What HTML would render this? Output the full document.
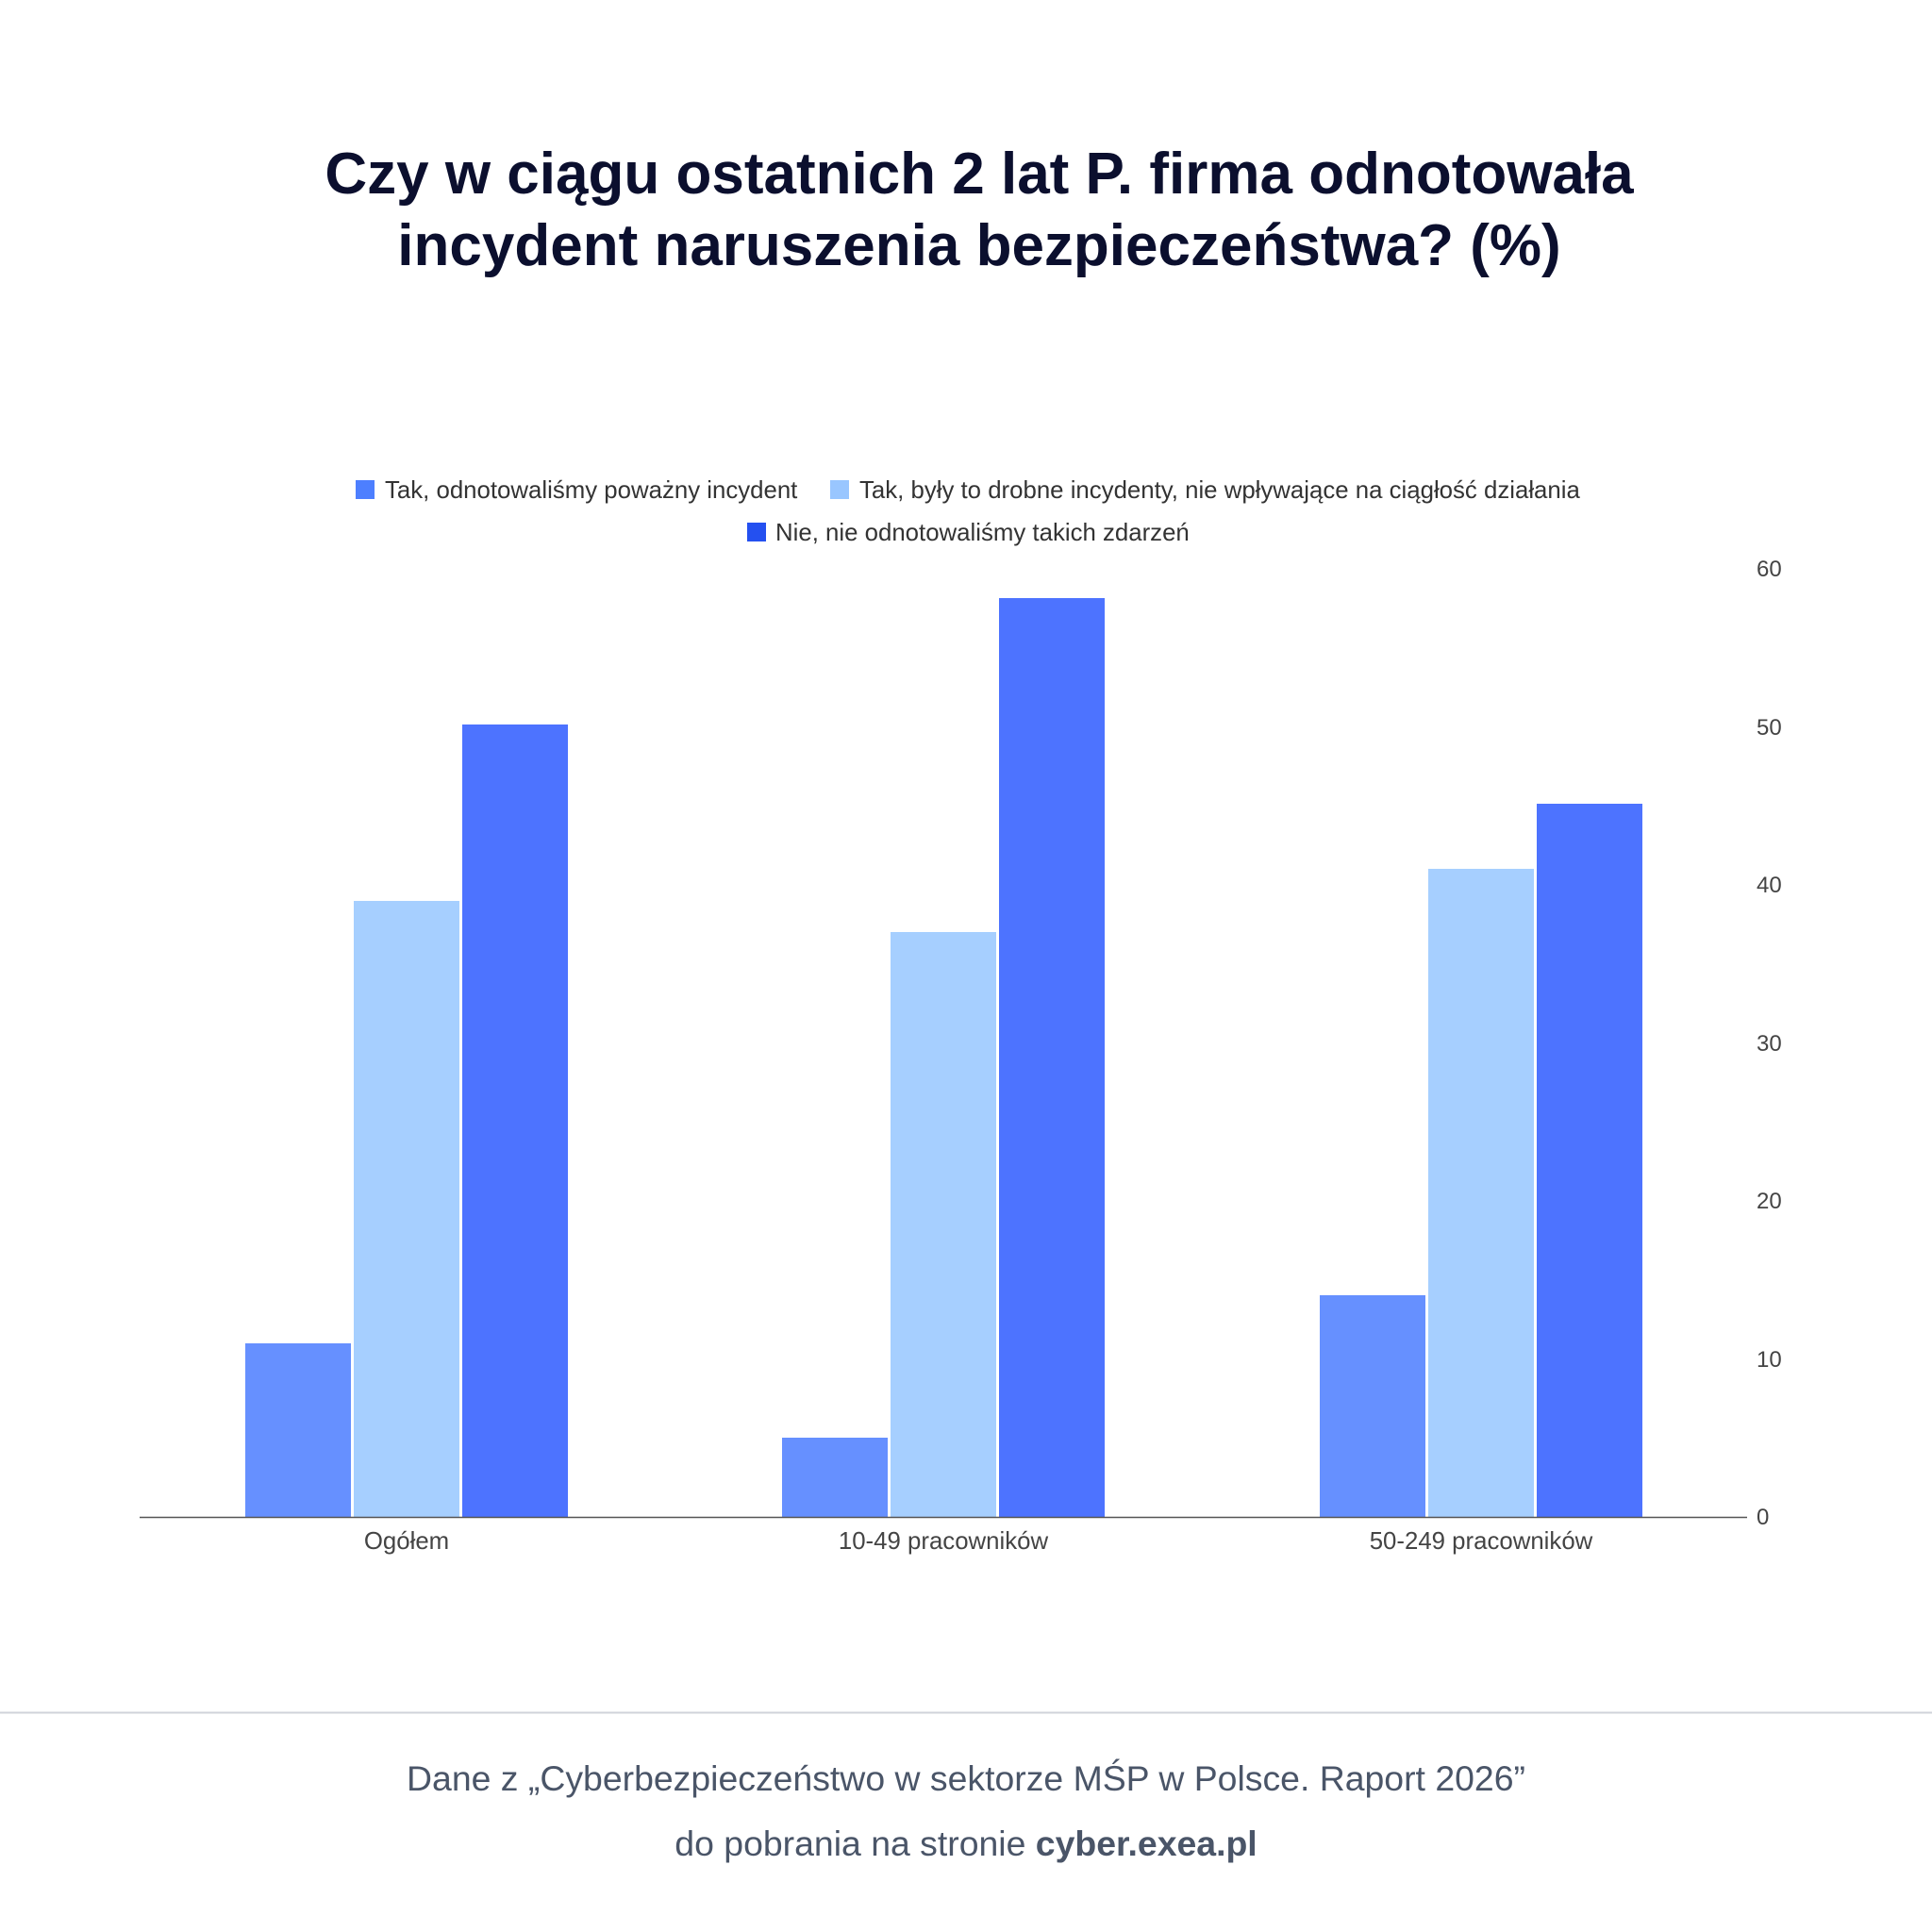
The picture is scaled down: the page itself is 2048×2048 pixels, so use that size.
<!DOCTYPE html>
<html><head><meta charset="utf-8"><style>
html,body{margin:0;padding:0;background:#fff;}
svg{display:block;}
</style></head><body>
<svg width="2048" height="2048" viewBox="0 0 2048 2048" xmlns="http://www.w3.org/2000/svg" font-family="Liberation Sans, DejaVu Sans, sans-serif">
<rect width="2048" height="2048" fill="#fff"/>
<g font-weight="bold" font-size="62" fill="#0b0f2e" text-anchor="middle">
<text x="1038" y="205">Czy w ciągu ostatnich 2 lat P. firma odnotowała</text>
<text x="1038" y="281">incydent naruszenia bezpieczeństwa? (%)</text>
</g>
<g font-size="25.8" fill="#333">
<rect x="377" y="509" width="20" height="20" fill="#4d7fff"/>
<text x="408" y="528">Tak, odnotowaliśmy poważny incydent</text>
<rect x="880" y="509" width="20" height="20" fill="#99c6ff"/>
<text x="911" y="528">Tak, były to drobne incydenty, nie wpływające na ciągłość działania</text>
<rect x="792" y="554" width="20" height="20" fill="#2450f0"/>
<text x="822" y="573">Nie, nie odnotowaliśmy takich zdarzeń</text>
</g>
<g font-size="24" fill="#444">
<text x="1862" y="611">60</text>
<text x="1862" y="779">50</text>
<text x="1862" y="946">40</text>
<text x="1862" y="1114">30</text>
<text x="1862" y="1281">20</text>
<text x="1862" y="1449">10</text>
<text x="1862" y="1616">0</text>
</g>
<g>
<rect x="260" y="1424" width="112" height="184" fill="#6690ff"/>
<rect x="375" y="955" width="112" height="653" fill="#a6cfff"/>
<rect x="490" y="768" width="112" height="840" fill="#4d73ff"/>
<rect x="829" y="1524" width="112" height="84" fill="#6690ff"/>
<rect x="944" y="988" width="112" height="620" fill="#a6cfff"/>
<rect x="1059" y="634" width="112" height="974" fill="#4d73ff"/>
<rect x="1399" y="1373" width="112" height="235" fill="#6690ff"/>
<rect x="1514" y="921" width="112" height="687" fill="#a6cfff"/>
<rect x="1629" y="852" width="112" height="756" fill="#4d73ff"/>
</g>
<line x1="148" y1="1608.5" x2="1852" y2="1608.5" stroke="#555" stroke-width="1.5"/>
<g font-size="25.8" fill="#444" text-anchor="middle">
<text x="431" y="1642">Ogółem</text>
<text x="1000" y="1642">10-49 pracowników</text>
<text x="1570" y="1642">50-249 pracowników</text>
</g>
<line x1="0" y1="1815.5" x2="2048" y2="1815.5" stroke="#d0d3da" stroke-width="2"/>
<g font-size="37.4" fill="#4a5568" text-anchor="middle">
<text x="1024" y="1898">Dane z „Cyberbezpieczeństwo w sektorze MŚP w Polsce. Raport 2026”</text>
<text x="1024" y="1967">do pobrania na stronie <tspan font-weight="bold">cyber.exea.pl</tspan></text>
</g>
</svg>
</body></html>
